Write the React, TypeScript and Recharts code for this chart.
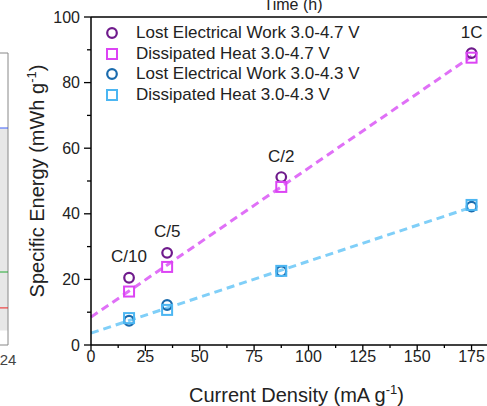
import React from "react";
import {
  ComposedChart,
  LineChart,
  Line,
  Scatter,
  XAxis,
  YAxis,
  ReferenceLine,
  ReferenceArea,
  Legend,
  LabelList,
} from "recharts";

const currentDensity = [17.5, 35, 87.5, 175];
const rateLabels = ["C/10", "C/5", "C/2", "1C"];
const lostWork47 = [20.5, 28.1, 51.2, 89];
const heat47 = [16.3, 23.8, 48.2, 87.6];
const lostWork43 = [7.4, 12.2, 22.5, 42.2];
const heat43 = [8.2, 10.7, 22.6, 42.7];

// dashed guide lines, read at both ends
const fitX = [0, 175];
const fit47 = [8.5, 88];
const fit43 = [3.6, 42];

const xTicks = [0, 12.5, 25, 37.5, 50, 62.5, 75, 87.5, 100, 112.5, 125, 137.5, 150, 162.5, 175, 187.5];
const yTicks = [0, 10, 20, 30, 40, 50, 60, 70, 80, 90, 100];

// strip of the neighbouring panel on the left
const stripTime = [20, 24];
const stripBlue = 74.3;
const stripGreen = 25;
const stripRed = 12.7;
const stripBand = [5, 74];

const FONT = "'Liberation Sans', Arial, sans-serif";

const COLORS = {
  lw47: "#6f1a8c",
  heat47: "#dc44f4",
  lw43: "#1a6bad",
  heat43: "#4cb6f2",
  fit47: "#e070f7",
  fit43: "#80cff8",
};

const toPoints = (vals: number[]) =>
  currentDensity.map((x, i) => ({ x, y: vals[i], rate: rateLabels[i] }));

const series = [
  { name: "Lost Electrical Work 3.0-4.7 V", data: toPoints(lostWork47), color: COLORS.lw47, shape: "circle" },
  { name: "Dissipated Heat 3.0-4.7 V", data: toPoints(heat47), color: COLORS.heat47, shape: "square" },
  { name: "Lost Electrical Work 3.0-4.3 V", data: toPoints(lostWork43), color: COLORS.lw43, shape: "circle" },
  { name: "Dissipated Heat 3.0-4.3 V", data: toPoints(heat43), color: COLORS.heat43, shape: "square" },
];

const Marker = ({ cx, cy, color, shape }: any) =>
  shape === "circle" ? (
    <circle cx={cx} cy={cy} r={4.8} fill="none" stroke={color} strokeWidth={2.2} />
  ) : (
    <rect x={cx - 5} y={cy - 5} width={10} height={10} fill="none" stroke={color} strokeWidth={2} />
  );

const YTick = ({ x, y, payload }: any) => {
  const ax = x + 11;
  const major = payload.value % 20 === 0;
  return (
    <g>
      <line x1={ax - (major ? 7 : 4)} x2={ax} y1={y} y2={y} stroke="#000" strokeWidth={1.3} />
      {major && (
        <text x={x} y={y} textAnchor="end" dominantBaseline="central" fontSize={16} fill="#222" fontFamily={FONT}>
          {payload.value}
        </text>
      )}
    </g>
  );
};

const XTick = ({ x, y, payload }: any) => {
  const ay = y - 10;
  const major = payload.value % 25 === 0;
  return (
    <g>
      <line x1={x} x2={x} y1={ay} y2={ay + (major ? 6 : 3)} stroke="#000" strokeWidth={1.3} />
      {major && (
        <text x={x} y={ay + 17} textAnchor="middle" fontSize={16} fill="#222" fontFamily={FONT}>
          {payload.value}
        </text>
      )}
    </g>
  );
};

const YTitle = ({ viewBox }: any) => {
  const cy = viewBox.y + viewBox.height / 2;
  return (
    <text transform={`translate(44,${cy}) rotate(-90)`} textAnchor="middle" fontSize={20} fill="#222" fontFamily={FONT}>
      Specific Energy (mWh g
      <tspan dy={-8} fontSize={13}>-1</tspan>
      <tspan dy={8}>)</tspan>
    </text>
  );
};

const XTitle = ({ viewBox }: any) => {
  const cx = viewBox.x + viewBox.width / 2;
  return (
    <text x={cx} y={402} textAnchor="middle" fontSize={20} fill="#222" fontFamily={FONT}>
      Current Density (mA g
      <tspan dy={-8} fontSize={13}>-1</tspan>
      <tspan dy={8}>)</tspan>
    </text>
  );
};

const RateLabel = ({ x, y, width, height, value }: any) => (
  <text
    x={x + width / 2}
    y={y + height / 2 - 21}
    textAnchor="middle"
    dominantBaseline="central"
    fontSize={17}
    fill="#222"
    fontFamily={FONT}
  >
    {value}
  </text>
);

const LegendBox = () => (
  <div style={{ fontFamily: FONT, fontSize: 17, color: "#222" }}>
    {series.map((s) => (
      <div key={s.name} style={{ display: "flex", alignItems: "center", height: 20.5 }}>
        <svg width={16} height={16} style={{ marginRight: 16 }}>
          <Marker cx={8} cy={8} color={s.color} shape={s.shape} />
        </svg>
        <span>{s.name}</span>
      </div>
    ))}
  </div>
);

const StripTick = ({ x, y, payload }: any) => (
  <text x={x} y={y + 12} textAnchor="middle" fontSize={15} fill="#444" fontFamily={FONT}>
    {payload.value}
  </text>
);

const stripData = stripTime.map((t) => ({ t, blue: stripBlue, green: stripGreen, red: stripRed }));

export default function App() {
  return (
    <div
      style={{
        position: "fixed",
        left: 0,
        top: 0,
        width: 487,
        height: 406,
        overflow: "hidden",
        background: "#fff",
        fontFamily: FONT,
      }}
    >
      <div style={{ position: "absolute", left: 0, top: 0 }}>
        <ComposedChart width={520} height={406} margin={{ top: 17, right: 18, bottom: 16, left: 31 }}>
          <XAxis
            dataKey="x"
            type="number"
            domain={[0, 189]}
            ticks={xTicks}
            interval={0}
            height={45}
            tickSize={6}
            tickMargin={4}
            tickLine={false}
            tick={<XTick />}
            axisLine={{ stroke: "#000", strokeWidth: 1.5 }}
            allowDataOverflow
            label={<XTitle />}
          />
          <YAxis
            dataKey="y"
            type="number"
            domain={[0, 100]}
            ticks={yTicks}
            interval={0}
            width={60}
            tickSize={7}
            tickMargin={4}
            tickLine={false}
            tick={<YTick />}
            axisLine={{ stroke: "#000", strokeWidth: 1.5 }}
            label={<YTitle />}
          />
          <ReferenceLine y={100} stroke="#000" strokeWidth={1.5} />
          {series.map((s, i) => (
            <Scatter
              key={s.name}
              name={s.name}
              data={s.data}
              isAnimationActive={false}
              shape={(p: any) => <Marker cx={p.cx} cy={p.cy} color={s.color} shape={s.shape} />}
            >
              {i === 0 && <LabelList dataKey="rate" content={<RateLabel />} />}
            </Scatter>
          ))}
          <ReferenceLine
            segment={[
              { x: fitX[0], y: fit47[0] },
              { x: fitX[1], y: fit47[1] },
            ]}
            stroke={COLORS.fit47}
            strokeWidth={3}
            strokeDasharray="8 5"
          />
          <ReferenceLine
            segment={[
              { x: fitX[0], y: fit43[0] },
              { x: fitX[1], y: fit43[1] },
            ]}
            stroke={COLORS.fit43}
            strokeWidth={3}
            strokeDasharray="8 5"
          />
          <Legend
            layout="horizontal"
            verticalAlign="middle"
            align="center"
            content={<LegendBox />}
            wrapperStyle={{ left: 104, top: 23, width: 320 }}
          />
        </ComposedChart>
      </div>

      <div style={{ position: "absolute", left: -52, top: 0 }}>
        <LineChart width={90} height={406} data={stripData} margin={{ top: 53, right: 30, bottom: 31, left: 0 }}>
          <XAxis
            dataKey="t"
            type="number"
            domain={[14, 24]}
            ticks={[24]}
            height={30}
            tickLine={false}
            tick={<StripTick />}
            axisLine={{ stroke: "#888" }}
          />
          <YAxis hide domain={[0, 100]} />
          <ReferenceArea x1={14} x2={24} y1={stripBand[0]} y2={stripBand[1]} fill="#d4d4d4" fillOpacity={0.55} stroke="none" />
          <ReferenceLine x={24} stroke="#888" />
          <ReferenceLine y={100} stroke="#888" />
          <Line dataKey="blue" stroke="#3355ee" dot={false} isAnimationActive={false} />
          <Line dataKey="green" stroke="#22aa33" dot={false} isAnimationActive={false} />
          <Line dataKey="red" stroke="#ee2222" dot={false} isAnimationActive={false} />
        </LineChart>
      </div>

      <div
        style={{
          position: "absolute",
          left: 260,
          top: -4,
          width: 66,
          textAlign: "center",
          fontSize: 16,
          color: "#222",
        }}
      >
        Time (h)
      </div>
    </div>
  );
}
